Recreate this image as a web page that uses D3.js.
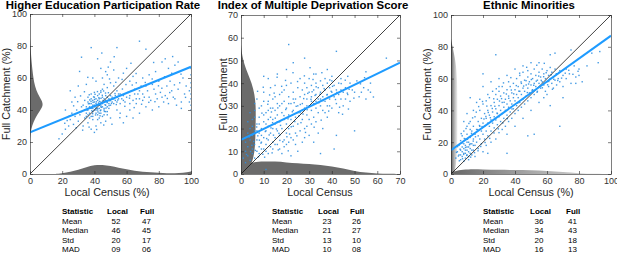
<!DOCTYPE html>
<html><head><meta charset="utf-8">
<script src="https://cdn.jsdelivr.net/npm/d3@7"></script>
<style>
html,body{margin:0;padding:0;background:#fff;}
svg{display:block;font-family:"Liberation Sans",Arial,Helvetica,sans-serif;}
</style></head>
<body><svg id="c" width="617" height="261"></svg>
<script>
// ---------- DATA ----------
const titles = ["Higher Education Participation Rate","Index of Multiple Deprivation Score","Ethnic Minorities"];
const xLabels = ["Local Census (%)","Local Census","Local Census (%)"];
const yLabels = ["Full Catchment (%)","Full Catchment","Full Catchment (%)"];
const axisMax = [100,70,100];
const tickStep = [20,10,20];
const fitIntercept = [26,15,15];
const fitSlope = [0.41,0.486,0.72];
const statNames = ["Mean","Median","Std","MAD"];
const heLocalStats = ["52","46","20","09"], heFullStats = ["47","45","17","06"];
const imdLocalStats = ["23","21","13","10"], imdFullStats = ["26","27","10","08"];
const ethLocalStats = ["36","34","20","16"], ethFullStats = ["41","43","18","13"];

// marginal densities: [value, extent]
const heXDensity = [[15,0],[20,0.4],[25,1.3],[30,2.6],[35,4.2],[40,5.6],[45,5.8],[50,5.0],[55,3.9],[60,2.9],[65,2.0],[70,1.4],[75,1.0],[80,0.7],[85,0.5],[90,0.5],[95,0.7],[100,1.6]];
const heYDensity = [[22,0],[26,0.4],[30,1.2],[35,3.2],[40,6.5],[43,8.2],[46,7.4],[50,4.8],[55,3.0],[60,2.1],[65,1.5],[70,1.0],[75,0.6],[80,0.3],[85,0]];
const imdXDensity = [[0,0],[2,4.0],[5,5.2],[10,5.6],[15,5.5],[20,5.1],[25,4.7],[30,4.4],[35,4.0],[40,3.4],[45,2.4],[50,1.3],[55,0.6],[60,0.25],[65,0.05],[70,0]];
const imdYDensity = [[0,0],[2,3.0],[5,5.0],[10,6.0],[15,6.3],[20,6.4],[25,6.5],[30,6.5],[35,6.0],[40,4.8],[45,2.6],[50,1.0],[53,0.4],[57,0]];
const ethXDensity = [[0,1.0],[5,2.5],[10,3.0],[20,2.9],[30,2.6],[40,2.5],[50,2.4],[60,2.0],[70,1.2],[80,0.5],[90,0.1],[100,0]];
const ethYDensity = [[0,2.0],[5,3.0],[10,3.5],[20,4.0],[30,4.0],[40,4.0],[50,4.0],[60,3.8],[70,3.0],[75,2.0],[80,1.0],[85,0]];

const hePoints = [38,79,54,79,68,83,32,73,72,78,42,72,50,70,44,66,47,64,52,65,58,63,60,66,64,61,35,56,39,60,41,58,45,60,48,62,55,60,62,58,66,57,70,60,74,62,78,64,82,70,84,72,86,66,88,63,90,68,92,70,95,60,80,58,76,56,72,55,68,52,65,50,85,55,88,52,92,53,96,50,94,45,90,47,82,48,78,50,74,48,70,46,66,47,62,44,58,46,56,50,54,52,52,55,50,57,48,54,46,56,44,52,
100,40,100,43,100,47,100,50,100,54,100,57,100,62,100,66,99,45,99,52,
94,41,86,44,80,42,76,40,72,42,68,38,64,35,58,32,62,40,60,36,56,38,54,40,
18,22,20,25,22,28,24,30,25,34,26,38,27,31,28,36,29,40,30,33,31,37,32,42,33,30,34,35,35,38,36,32,37,44,38,28,39,36,40,26,41,30,42,34,43,38,44,32,45,36,46,40,47,33,48,37,49,41,50,35,25,52,28,48,22,40,30,55,26,45,
36,40,37,42,38,41,38,44,39,39,39,43,40,40,40,42,40,45,41,41,41,44,41,38,42,40,42,43,42,46,43,41,43,44,43,47,44,40,44,43,44,45,45,42,45,44,45,48,46,41,46,45,46,47,47,43,47,46,47,49,48,42,48,45,48,48,49,44,49,47,50,43,50,46,50,49,51,45,51,48,52,44,52,47,53,46,53,49,54,45,54,48,55,47,55,50,35,42,36,45,37,38,38,47,39,46,40,48,34,40,33,43,32,39,35,36,36,37,37,35,38,36,39,34,42,37,43,35,44,38,46,37,47,39,48,39,41,47,42,49,43,50,44,51,45,53,40,51,38,50,36,48,34,46,
56,44,57,47,58,49,59,45,60,48,61,51,62,49,63,52,64,46,65,53,66,44,67,50,68,47,69,55,70,50,71,48,73,52,75,46,77,53,79,47,81,51,83,45,84,49,87,58,89,48,91,43,93,57,97,55,
40,43,41,42,42,41,43,43,44,42,39,41,41,40,
41.5,43.2,39.2,44.8,43.7,39.6,45.3,45.9,37.6,41.1,42.8,47.7,46.6,43.3,40.7,36.9,44.9,49.2,38.4,39.5,47.9,44.6,36.3,43.9,49.6,45.8,42.2,38.8,40.1,46.6,44.4,41.7,51.3,46.9,39.9,42.3,43.1,45.4,46.2,39.1,37.1,46.3,48.7,50.8,41.9,51.5,35.4,39.9,50.6,44.1,45.7,51.9,38.9,37.7,52.8,50.3,43.5,36.4,47.2,41.2,36.8,49.5,54.5,46.2,40.4,49.8,44.1,47.3,42.6,44.4,49.1,42.8,39.5,48.2,37.9,45.4,46.9,50.6,53.6,43.4,41.2,45.1,
57.4,53.1,61.8,47.4,63.5,55.6,67.7,53.8,71.6,57.2,75.9,59.4,79.8,55.1,83.6,60.8,86.8,50.9,89.7,55.7,93.8,62.4,96.6,47.9,58.9,42.3,64.7,41.5,69.3,43.6,73.8,44.8,77.6,45.2,81.9,53.6,85.3,47.2,59.6,55.9,65.9,62.8,57.2,59.1,53.3,57.3,49.4,59.4,31.4,48.8,33.8,51.4,29.6,45.2,27.1,42.6,24.4,36.2,23.1,33.4,21.6,31.7,28.7,28.9,32.7,27.4,36.7,29.3,41.4,27.8,45.8,30.6,50.9,31.1,55.8,35.2,35.9,60.4,48.6,66.8,62.7,69.2,30.8,64.1,52.3,73.3,76.8,69.7,88.6,73.4,44.6,75.6];

const imdPoints = [21,57,42,54,28,51,23,49,64,51,20,46,10,43,12,42,50,19,42,17,41,11,11,2,35,9,16,44,33,44,38,46,40,43,47,43,55,45,56,37,57,40,54,38,52,34,50,36,48,40,46,33,44,37,45,30,43,27,38,25,36,20,32,14,30,17,28,16,25,10,22,8,18,9,20,13,
1,7,2,10,2,14,3,12,3,18,4,15,4,20,5,11,5,17,5,24,6,13,6,19,6,28,7,10,7,15,7,22,7,33,8,12,8,18,8,25,9,14,9,20,9,30,10,11,10,16,10,23,10,36,11,13,11,19,11,27,12,15,12,21,12,32,13,12,13,18,13,25,13,38,14,14,14,20,14,29,15,16,15,22,15,34,16,13,16,19,16,26,17,17,17,23,17,30,18,20,18,27,18,36,19,15,19,24,19,32,20,18,20,22,20,29,20,39,21,20,21,26,21,34,22,16,22,24,22,31,22,40,23,21,23,28,23,36,24,18,24,25,24,33,25,22,25,30,25,38,26,27,26,34,26,42,27,24,27,31,27,37,28,20,28,29,28,35,28,40,29,26,29,33,29,38,30,24,30,30,30,36,30,42,31,28,31,34,31,39,32,25,32,31,32,37,32,44,33,29,33,35,33,40,34,27,34,33,34,38,35,30,35,36,35,41,36,28,36,34,36,39,37,32,37,37,37,42,38,30,38,35,38,40,39,33,39,38,40,29,40,36,40,41,41,34,41,39,42,31,42,37,43,35,43,40,44,33,44,42,45,36,46,38,47,35,48,32,49,37,51,41,53,36,55,33,57,36,
3,8,4,6,5,9,6,7,2,5,8,9,9,11,11,10,12,9,14,11,15,13,17,11,19,12,21,14,23,15,26,19,29,21,31,22,33,23,27,14,34,18,24,13,
10,26,12,28,14,33,15,28,16,31,18,31,16,23,14,24,12,24,8,22,6,25,4,27,11,22,9,17,7,19,5,21,3,23,13,29,15,39,17,35,19,37,21,31,23,33,25,27,27,28,29,30,31,32,33,32,35,33,37,27,39,30,10,32,8,29,6,31,
5.6,14.3,7.4,16.8,8.8,13.6,10.7,18.7,12.4,17.2,13.9,22.6,15.6,19.8,17.4,21.4,18.9,25.7,20.7,24.3,22.6,27.4,24.3,29.8,26.1,30.6,27.6,33.2,29.4,35.5,31.3,36.2,33.1,38.4,34.8,35.1,36.6,37.6,38.4,33.7,40.3,38.6,42.2,35.9,44.1,39.8,45.9,41.3,47.6,37.3,6.3,10.4,8.1,14.9,9.6,8.7,11.3,15.6,13.2,20.3,15.1,24.6,16.7,17.9,18.4,14.2,20.2,16.4,22.1,20.8,23.7,23.1,25.4,25.5,27.3,26.4,29.1,28.3,30.8,32.9,32.6,34.6,34.3,31.4,36.1,32.3,37.8,34.8,39.7,36.4,41.6,32.8,43.4,29.4,3.6,16.2,4.8,12.6,6.9,20.7,9.2,26.8,11.8,30.7,14.6,35.6,17.9,38.6,19.6,41.2,24.9,40.7,27.9,43.2,31.7,41.6,35.6,44.6,39.1,41.4,46.8,35.6,49.7,33.4,52.6,39.7,54.4,42.4,58.3,33.9,2.4,8.6,4.2,9.9,7.7,7.6,10.4,7.4,13.7,9.3,16.4,10.6,20.8,10.2,24.6,16.8,28.4,18.3,32.2,20.6,35.3,23.7,38.6,27.7,44.7,26.3,47.3,28.6,12.6,34.8,9.8,38.2,7.3,36.4,15.9,42.6,22.9,44.6,30.4,46.8,26.4,22.6,21.4,17.6,17.1,14.8,14.3,17.1,19.7,28.4,23.4,31.4,16.2,29.1,13.4,27.3];

const ethPoints = [28,75,20,63,62,75,65,76,75,78,88,76,93,77,92,70,85,68,80,62,82,58,78,57,68,30,48,24,52,25,35,13,23,13,12,48,18,47,23,50,30,55,
3,10,4,14,5,12,5,18,6,9,6,15,6,21,7,11,7,17,7,24,8,8,8,13,8,19,8,27,9,10,9,15,9,22,10,12,10,17,10,25,10,30,11,9,11,14,11,20,12,16,12,23,12,33,13,12,13,19,13,27,14,15,14,22,14,30,15,11,15,18,15,25,15,36,16,20,16,28,17,16,17,24,17,33,18,22,18,30,18,40,19,19,19,27,19,35,20,25,20,32,20,44,21,22,21,30,21,38,22,27,22,35,22,46,23,24,23,32,23,40,24,30,24,37,24,48,25,27,25,34,25,43,26,32,26,39,26,52,27,29,27,36,27,45,28,34,28,41,28,50,29,31,29,38,29,47,30,36,30,43,30,52,31,33,31,40,31,49,32,38,32,45,32,55,33,35,33,42,33,51,34,40,34,47,35,37,35,44,35,53,36,42,36,49,36,58,37,39,37,46,37,55,38,44,38,51,39,41,39,48,39,57,40,46,40,53,41,43,41,50,41,60,42,48,42,55,43,45,43,52,43,62,44,50,44,57,45,47,45,54,45,64,46,52,46,59,47,49,47,56,48,54,48,61,49,51,49,58,50,48,50,56,50,63,51,53,51,60,52,50,52,57,52,66,53,55,53,62,54,52,54,59,55,57,55,64,56,54,56,61,57,58,57,66,58,56,58,63,59,60,59,52,60,58,60,65,61,55,61,62,62,60,62,67,63,57,63,64,64,61,64,54,65,59,65,66,66,63,66,56,67,60,68,65,68,58,70,62,70,55,72,66,72,60,74,63,75,57,77,68,78,61,80,66,
20,14,22,18,25,20,28,22,30,26,32,28,34,30,36,33,38,35,40,38,42,40,44,42,46,44,48,46,35,25,40,30,45,35,50,40,55,45,58,48,60,50,62,43,70,48,
10,38,14,40,16,45,12,28,8,33,20,55,25,58,30,60,35,62,40,66,45,68,50,70,55,70,48,65,
6,12,7,14,9,13,10,15,11,17,12,13,13,15,8,16,9,18,10,20,11,11,12,19,14,18,
4.6,11.3,5.7,15.6,6.8,19.4,7.9,12.3,9.1,16.7,10.3,21.8,11.6,18.4,12.8,25.6,13.9,20.7,15.3,23.4,16.6,27.9,17.8,30.5,19.4,29.8,20.6,34.6,21.8,36.2,23.3,38.7,24.6,35.4,25.8,41.2,27.4,42.6,28.8,38.3,30.3,45.9,31.6,47.4,33.2,45.1,34.6,50.3,36.1,47.6,37.7,52.8,39.2,50.4,40.8,55.6,42.4,52.1,43.8,57.9,45.4,55.3,46.9,58.7,48.5,56.6,50.2,59.4,51.7,55.8,53.3,58.4,54.8,61.6,56.4,58.9,57.9,61.2,59.5,63.7,61.1,58.2,62.6,62.4,64.2,59.6,65.8,62.9,67.3,63.8,69.1,60.3,71.4,63.4,73.6,65.2,76.2,62.7,79.4,64.6,
7.2,9.6,9.8,11.7,12.3,10.6,14.7,13.4,16.9,14.6,18.6,17.3,21.3,19.8,24.2,22.4,26.9,25.8,29.6,28.4,32.4,32.1,35.2,34.8,38.1,40.9,41.7,44.6,44.3,46.8,47.7,51.2,50.7,52.6,53.8,51.4,57.1,54.2,60.4,56.1,63.4,53.3,66.7,58.8,
9.4,28.6,11.2,31.8,13.5,35.3,15.8,38.9,17.3,42.4,19.7,45.6,22.4,42.7,26.7,47.3,28.3,53.6,32.8,57.3,37.4,60.6,42.9,63.4,47.3,67.1,53.6,68.4,58.3,69.6,8.3,22.3,6.4,25.4,5.2,8.3,4.1,17.2,3.4,13.6];

// ---------- LAYOUT ----------
const panelBoxes = [
  {x0:30,x1:191,y0:14,y1:174,titleX:103,xLabX:107,yLabX:10,tab:{s:62,l:107,f:140}},
  {x0:241,x1:400,y0:15,y1:174,titleX:313,xLabX:320,yLabX:227,tab:{s:272,l:318,f:350}},
  {x0:451,x1:611,y0:15,y1:174,titleX:529,xLabX:531,yLabX:431,tab:{s:483,l:530,f:566}}
];
const pointSets = [hePoints, imdPoints, ethPoints];
const xDens = [heXDensity, imdXDensity, ethXDensity];
const yDens = [heYDensity, imdYDensity, ethYDensity];
const localStats = [heLocalStats, imdLocalStats, ethLocalStats];
const fullStats = [heFullStats, imdFullStats, ethFullStats];

const pairs = a => { const r=[]; for(let i=0;i<a.length;i+=2) r.push([a[i],a[i+1]]); return r; };

const svg = d3.select("#c");
const defs = svg.append("defs");
const gx = defs.append("linearGradient").attr("id","gradX").attr("x1","0").attr("y1","0").attr("x2","1").attr("y2","0");
gx.append("stop").attr("offset","0").attr("stop-color","#555").attr("stop-opacity",0.9);
gx.append("stop").attr("offset","1").attr("stop-color","#777").attr("stop-opacity",0.25);
const gy = defs.append("linearGradient").attr("id","gradY").attr("x1","0").attr("y1","0").attr("x2","1").attr("y2","0");
gy.append("stop").attr("offset","0").attr("stop-color","#555").attr("stop-opacity",0.95);
gy.append("stop").attr("offset","1").attr("stop-color","#888").attr("stop-opacity",0.15);

const axisColor = "#262626";

panelBoxes.forEach((b,i) => {
  const m = axisMax[i];
  const x = d3.scaleLinear().domain([0,m]).range([b.x0,b.x1]);
  const y = d3.scaleLinear().domain([0,m]).range([b.y1,b.y0]);
  const ticks = d3.range(0,m+0.001,tickStep[i]);
  const g = svg.append("g");
  const clipId = "clip"+i;
  defs.append("clipPath").attr("id",clipId).append("rect")
    .attr("x",b.x0).attr("y",b.y0).attr("width",b.x1-b.x0).attr("height",b.y1-b.y0);
  const pg = g.append("g").attr("clip-path",`url(#${clipId})`);

  const fillX = i===2 ? "url(#gradX)" : "#6b6b6b";
  const fillY = i===2 ? "url(#gradY)" : "#6b6b6b";
  pg.append("path").datum(xDens[i])
    .attr("d", d3.area().x(d=>x(d[0])).y0(y(0)).y1(d=>y(d[1])).curve(d3.curveBasis))
    .attr("fill", fillX);
  pg.append("path").datum(yDens[i])
    .attr("d", d3.area().y(d=>y(d[0])).x0(x(0)).x1(d=>x(d[1])).curve(d3.curveBasis))
    .attr("fill", fillY);

  pg.append("g").selectAll("rect").data(pairs(pointSets[i])).join("rect")
    .attr("x", d=>x(d[0])-0.7).attr("y", d=>y(d[1])-0.7)
    .attr("width",1.4).attr("height",1.4)
    .attr("fill","#2f8fe0").attr("opacity",0.9);

  pg.append("line").attr("x1",x(0)).attr("y1",y(0)).attr("x2",x(m)).attr("y2",y(m))
    .attr("stroke","#111").attr("stroke-width",0.8);
  pg.append("line").attr("x1",x(0)).attr("y1",y(fitIntercept[i]))
    .attr("x2",x(m)).attr("y2",y(fitIntercept[i]+fitSlope[i]*m))
    .attr("stroke","#1e9bff").attr("stroke-width",2);

  const styleAxis = sel => {
    sel.select(".domain").attr("stroke",axisColor).attr("stroke-width",0.6);
    sel.selectAll(".tick line").attr("stroke",axisColor).attr("stroke-width",0.6);
    sel.selectAll(".tick text").attr("fill","#333").style("font-size","9px").style("font-family","'Liberation Sans',Arial,sans-serif");
  };
  g.append("g").attr("transform",`translate(0,${b.y1})`)
    .call(d3.axisBottom(x).tickValues(ticks).tickSize(-3).tickSizeOuter(0).tickPadding(4).tickFormat(d3.format("d")))
    .call(styleAxis);
  g.append("g").attr("transform",`translate(0,${b.y0})`)
    .call(d3.axisTop(x).tickValues(ticks).tickSize(-3).tickSizeOuter(0).tickFormat(""))
    .call(styleAxis);
  g.append("g").attr("transform",`translate(${b.x0},0)`)
    .call(d3.axisLeft(y).tickValues(ticks).tickSize(-3).tickSizeOuter(0).tickPadding(3).tickFormat(d3.format("d")))
    .call(styleAxis);
  g.append("g").attr("transform",`translate(${b.x1},0)`)
    .call(d3.axisRight(y).tickValues(ticks).tickSize(-3).tickSizeOuter(0).tickFormat(""))
    .call(styleAxis);

  g.append("text").attr("x",b.titleX).attr("y",9).attr("text-anchor","middle")
    .style("font-weight","bold").style("font-size","11.4px").attr("fill","#000").text(titles[i]);
  g.append("text").attr("x",b.xLabX).attr("y",196).attr("text-anchor","middle")
    .style("font-size","10.8px").attr("fill","#262626").text(xLabels[i]);
  g.append("text").attr("transform",`translate(${b.yLabX},${(b.y0+b.y1)/2}) rotate(-90)`)
    .attr("text-anchor","middle").style("font-size","10.8px").attr("fill","#262626").text(yLabels[i]);

  const t = g.append("g").style("font-size","8px").attr("fill","#000");
  const rowY = [214,223.5,233,242.5,252];
  t.append("text").attr("x",b.tab.s).attr("y",rowY[0]).style("font-weight","bold").text("Statistic");
  t.append("text").attr("x",b.tab.l).attr("y",rowY[0]).style("font-weight","bold").text("Local");
  t.append("text").attr("x",b.tab.f).attr("y",rowY[0]).style("font-weight","bold").text("Full");
  statNames.forEach((s,k) => {
    t.append("text").attr("x",b.tab.s).attr("y",rowY[k+1]).text(s);
    t.append("text").attr("x",b.tab.l+9).attr("y",rowY[k+1]).attr("text-anchor","middle").text(localStats[i][k]);
    t.append("text").attr("x",b.tab.f+6.5).attr("y",rowY[k+1]).attr("text-anchor","middle").text(fullStats[i][k]);
  });
});
</script></body></html>
